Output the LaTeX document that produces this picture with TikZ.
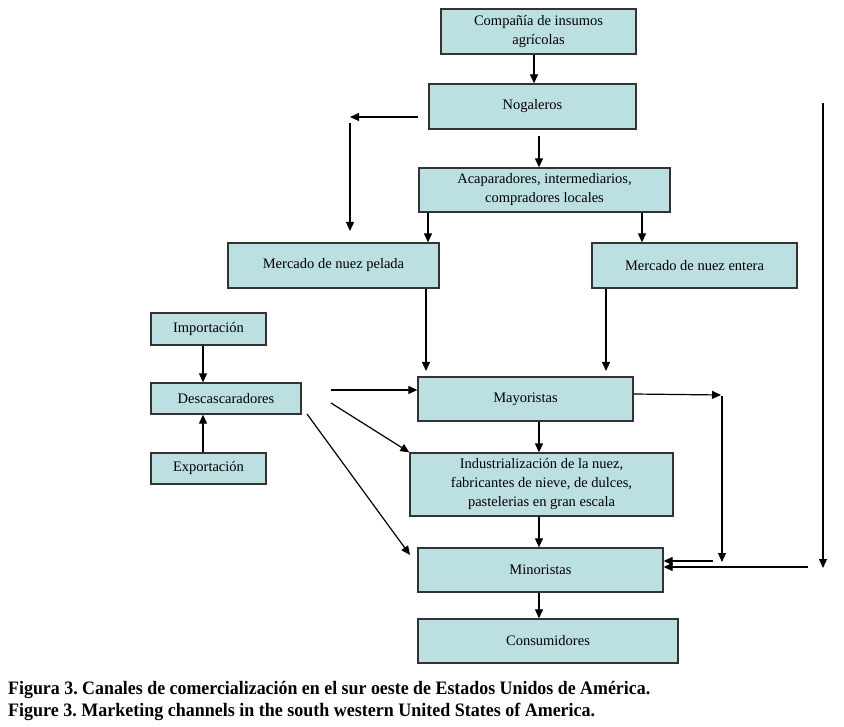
\documentclass[tikz,border=0pt]{standalone}
\usepackage{fontspec}
\setmainfont{Liberation Serif}
\usetikzlibrary{arrows.meta}
\definecolor{boxc}{HTML}{BCE0E2}
\definecolor{edgec}{HTML}{333333}
\frenchspacing
\tikzset{
  box/.style={draw=edgec, fill=boxc, line width=1.3pt, align=center, inner sep=0pt,
    font=\fontsize{14.5}{19}\selectfont},
  arr/.style={line width=1.2pt, -{Triangle[length=9pt,width=8pt]}},
  ln/.style={line width=1.2pt}
}
\begin{document}
\begin{tikzpicture}[x=1pt,y=-1pt]
\useasboundingbox (0,0) rectangle (844,727);
\node[box, minimum width=195, minimum height=45] (comp) at (538.5,31.5) {Compañía de insumos\\agrícolas};
\node[box, minimum width=207, minimum height=45] (noga) at (532.5,106.5) {Nogaleros};
\node[box, minimum width=251, minimum height=44] (acap) at (544.5,190) {Acaparadores, intermediarios,\\compradores locales};
\node[box, minimum width=211, minimum height=45] (pel) at (333.5,265.5) {Mercado de nuez pelada};
\node[box, minimum width=205, minimum height=45] (ent) at (694.5,265.5) {Mercado de nuez entera};
\node[box, minimum width=115, minimum height=32] (imp) at (208.5,329) {Importación};
\node[box, minimum width=150, minimum height=31] (desc) at (226,398.5) {Descascaradores};
\node[box, minimum width=115, minimum height=31] (exp) at (208.5,468.5) {Exportación};
\node[box, minimum width=215, minimum height=44] (may) at (525.5,399) {Mayoristas};
\node[box, minimum width=263, minimum height=63] (ind) at (541.5,484.5) {Industrialización de la nuez,\\fabricantes de nieve, de dulces,\\pastelerias en gran escala};
\node[box, minimum width=245, minimum height=44] (min) at (540.5,570) {Minoristas};
\node[box, minimum width=260, minimum height=44] (cons) at (548,641) {Consumidores};

% free ends
\coordinate (nl1) at (418,117);
\coordinate (nl2) at (350,117);
\coordinate (nv1) at (350,123);
\coordinate (nv2) at (350,231);
\coordinate (na1) at (539,136);
\coordinate (pb) at (426,371);
\coordinate (eb) at (606,371);
\coordinate (d1) at (331,390);
\coordinate (d2) at (331,403);
\coordinate (d3) at (307,414);
\coordinate (m1) at (721,395);
\coordinate (m2) at (722,562);
\coordinate (r1) at (713,561);
\coordinate (r2) at (808,567);
\coordinate (v1) at (823,103);
\coordinate (v2) at (823,568);

\draw[arr] (comp.south -| 534,0) -- (noga.north -| 534,0);
\draw[arr] (nl1) -- (nl2);
\draw[arr] (nv1) -- (nv2);
\draw[arr] (na1) -- (acap.north -| 539,0);
\draw[arr] (acap.south -| 428,0) -- (pel.north -| 428,0);
\draw[arr] (acap.south -| 642,0) -- (ent.north -| 642,0);
\draw[arr] (pel.south -| 426,0) -- (pb);
\draw[arr] (ent.south -| 606,0) -- (eb);
\draw[arr] (imp.south -| 203,0) -- (desc.north -| 203,0);
\draw[arr] (exp.north -| 203,0) -- (desc.south -| 203,0);
\draw[arr] (d1) -- (may.west |- d1);
\draw[arr] (d2) -- (ind.north west);
\draw[arr] (d3) -- (410,555);
\draw[arr] (may.east |- 0,394) -- (m1);
\draw[arr] (722,396) -- (m2);
\draw[arr] (r1) -- (min.east |- r1) ;
\draw[arr] (r2) -- (min.east |- r2);
\draw[arr] (v1) -- (v2);
\draw[arr] (may.south -| 539,0) -- (ind.north -| 539,0);
\draw[arr] (ind.south -| 539,0) -- (min.north -| 539,0);
\draw[arr] (min.south -| 539,0) -- (cons.north -| 539,0);

\node[anchor=base west, inner sep=0, font=\fontsize{19}{20}\bfseries\selectfont] (cap1) at (8,694)
  {\resizebox{642pt}{\height}{Figura 3. Canales de comercialización en el sur oeste de Estados Unidos de América.}};
\node[anchor=base west, inner sep=0, font=\fontsize{19}{20}\bfseries\selectfont] (cap2) at (8,716)
  {\resizebox{587pt}{\height}{Figure 3. Marketing channels in the south western United States of America.}};
\end{tikzpicture}
\end{document}
